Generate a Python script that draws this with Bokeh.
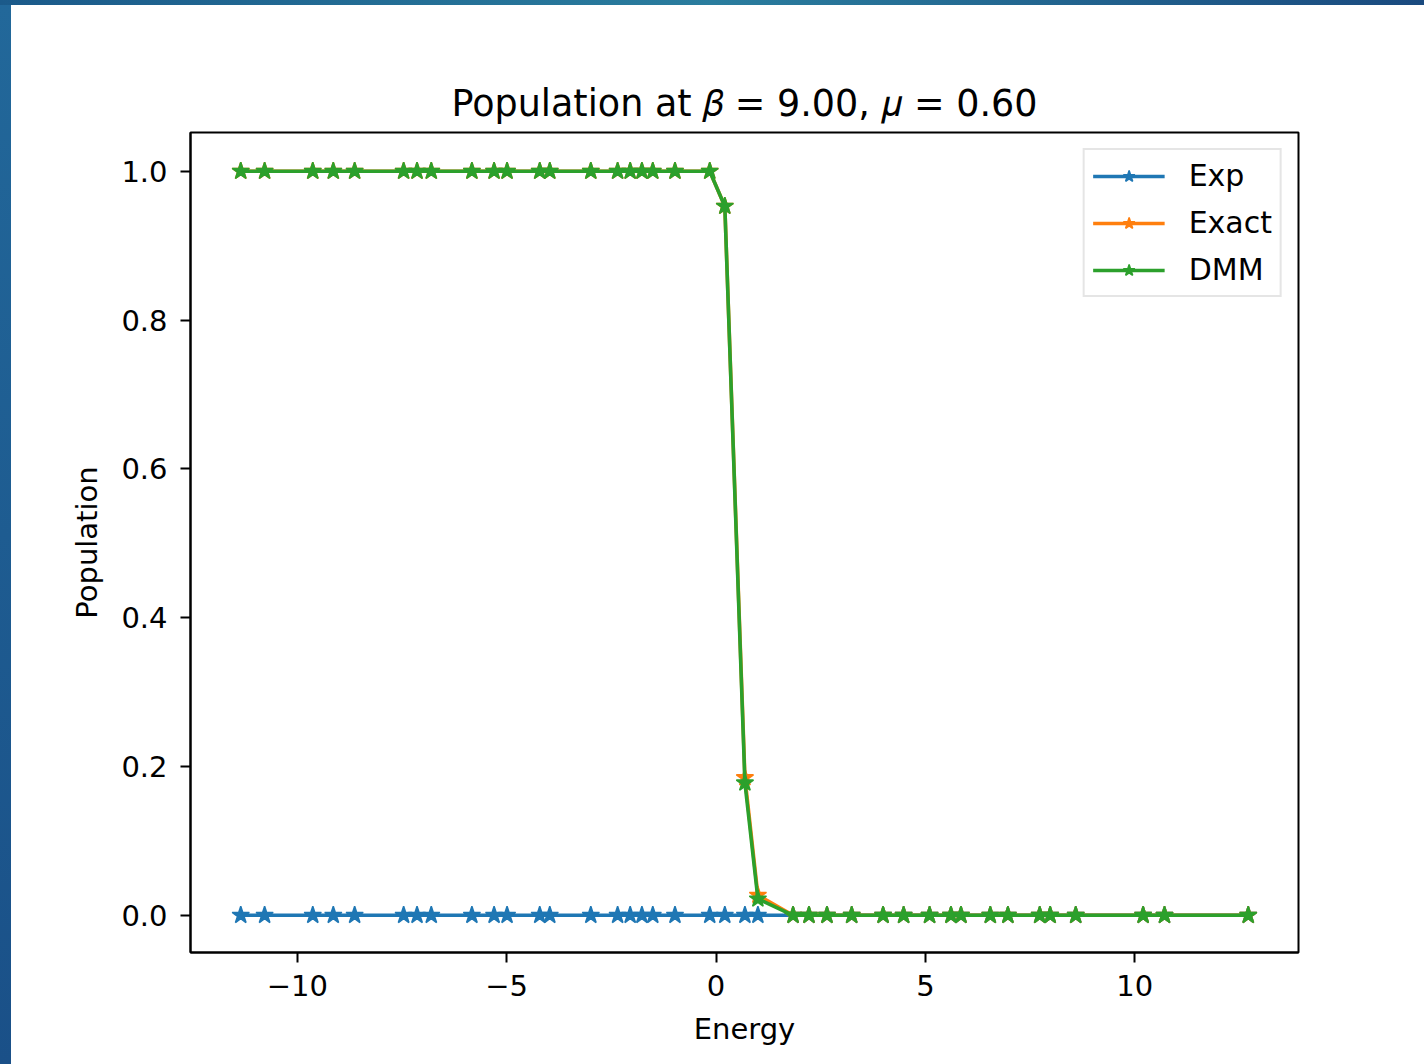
from bokeh.plotting import figure
from bokeh.models import FixedTicker, Legend, LegendItem, Div, PrintfTickFormatter
from bokeh.layouts import column, row
from bokeh.embed import file_html
from bokeh.resources import INLINE

# ---- data ----
energy = [-11.35, -10.78, -9.63, -9.14, -8.63, -7.46, -7.14, -6.80, -5.83, -5.30,
          -4.99, -4.21, -3.97, -2.99, -2.35, -2.05, -1.77, -1.51, -0.98, -0.15,
          0.21, 0.69, 1.00, 1.84, 2.22, 2.65, 3.24, 3.99, 4.48, 5.10,
          5.61, 5.85, 6.55, 6.97, 7.73, 7.98, 8.59, 10.20, 10.71, 12.71]
pop_exp = [0.0] * 40
pop_exact = [1.0] * 20 + [0.953, 0.185, 0.027] + [0.0] * 17
pop_dmm = [1.0] * 20 + [0.953, 0.178, 0.022] + [0.0] * 17
series_names = ["Exp", "Exact", "DMM"]
series_colors = ["#1f77b4", "#ff7f0e", "#2ca02c"]
x_ticks = [-10, -5, 0, 5, 10]
x_tick_labels = ["\u221210", "\u22125", "0", "5", "10"]
y_ticks = [0.0, 0.2, 0.4, 0.6, 0.8, 1.0]
title_text = "Population at \U0001D6FD = 9.00, \U0001D707 = 0.60"

FONT = "DejaVu Sans"

p = figure(width=1413, height=1059, x_range=(-12.55, 13.91), y_range=(-0.05, 1.052),
           output_backend="svg", toolbar_location=None, title=title_text,
           min_border_left=179, min_border_right=126, min_border_top=127,
           min_border_bottom=112)
p.background_fill_color = "white"
p.border_fill_color = "white"
p.outline_line_color = "black"
p.outline_line_width = 2
p.xgrid.visible = False
p.ygrid.visible = False

p.title.text_font = FONT
p.title.text_font_size = "36.5px"
p.title.text_font_style = "normal"
p.title.align = "center"
p.title.text_color = "black"
p.title.standoff = 15

for ax in (p.xaxis[0], p.yaxis[0]):
    ax.major_tick_out = 10
    ax.major_tick_in = 0
    ax.minor_tick_out = 0
    ax.minor_tick_in = 0
    ax.major_tick_line_width = 2
    ax.axis_line_width = 2
    ax.major_label_text_font = FONT
    ax.major_label_text_font_size = "29px"
    ax.major_label_text_color = "black"
    ax.axis_label_text_font = FONT
    ax.axis_label_text_font_size = "29px"
    ax.axis_label_text_font_style = "normal"
    ax.axis_label_text_color = "black"

p.xaxis.ticker = FixedTicker(ticks=x_ticks)
p.xaxis.major_label_overrides = {t: l for t, l in zip(x_ticks, x_tick_labels)}
p.xaxis.axis_label = "Energy"
p.xaxis.major_label_standoff = 12
p.xaxis.axis_label_standoff = 13
p.yaxis.ticker = FixedTicker(ticks=y_ticks)
p.yaxis.formatter = PrintfTickFormatter(format="%.1f")
p.yaxis.axis_label = "Population"
p.yaxis.major_label_standoff = 13
p.yaxis.axis_label_standoff = 14

items = []
for name, ys, color in zip(series_names, [pop_exp, pop_exact, pop_dmm], series_colors):
    rl = p.line(energy, ys, line_color=color, line_width=3.6)
    rs = p.scatter(energy, ys, marker="star", size=18, fill_color=color,
                   line_color=color, line_width=1.5)
    items.append(LegendItem(label=name, renderers=[rl, rs]))

legend = Legend(items=items, location="top_right")
legend.margin = 16
legend.padding = 8
legend.spacing = 12
legend.glyph_width = 72
legend.glyph_height = 30
legend.label_height = 30
legend.label_standoff = 24
legend.label_text_font = FONT
legend.label_text_font_size = "30px"
legend.label_text_color = "black"
legend.border_line_color = "#cccccc"
legend.border_line_width = 2
legend.background_fill_alpha = 0.8
p.add_layout(legend)

top = Div(text="", width=1424, height=5, margin=0,
          styles={"background": "linear-gradient(90deg,#1b5a8a 0%,#2a7d9e 50%,#1a4a7f 100%)"})
left = Div(text="", width=11, height=1059, margin=0,
           styles={"background": "linear-gradient(180deg,#22689a 0%,#1a5088 100%)"})
layout = column(top, row(left, p, spacing=0), spacing=0)

open("out.html", "w").write(file_html(layout, INLINE))
